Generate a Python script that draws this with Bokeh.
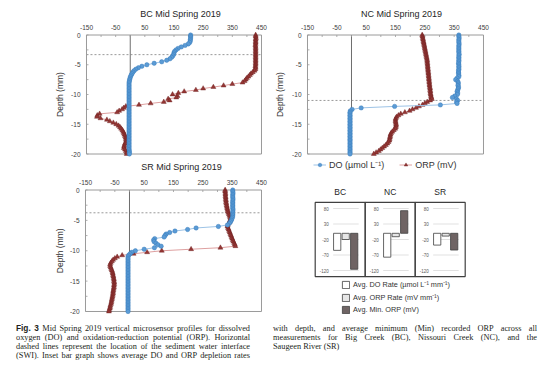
import math
from bokeh.plotting import figure
from bokeh.models import Range1d, Legend, LegendItem, Div, Spacer
from bokeh.layouts import row, column
from bokeh.embed import file_html
from bokeh.resources import INLINE
from bokeh.core.properties import value

# ---------------- data ----------------
DEPTH = [0, -0.25, -0.5, -0.75, -1, -1.25, -1.5, -1.75, -2, -2.25, -2.5, -2.75, -3, -3.25, -3.5,
         -3.75, -4, -4.25, -4.5, -4.75, -5, -5.25, -5.5, -5.75, -6, -6.25, -6.5, -6.75, -7,
         -7.25, -7.5, -7.75, -8, -8.25, -8.5, -8.75, -9, -9.25, -9.5, -9.75, -10, -10.25,
         -10.5, -10.75, -11, -11.25, -11.5, -11.75, -12, -12.25, -12.5, -12.75, -13, -13.25,
         -13.5, -13.75, -14, -14.25, -14.5, -14.75, -15, -15.25, -15.5, -15.75, -16, -16.25,
         -16.5, -16.75, -17, -17.25, -17.5, -17.75, -18, -18.25, -18.5, -18.75, -19, -19.25,
         -19.5, -19.75, -20]

BC_DO = [207, 207, 207, 206, 206, 204,
         199, 188, 175, 164, 157, 152,
         150, 149, 146, 142, 136, 125,
         108, 82, 57, 40, 28, 19,
         13, 9, 6, 3, 1, -1,
         -2, -3, -4, -4, -4, -4,
         -4, -4, -4, -4, -4, -4, -4, -4, -4, -4,
         -4, -4, -4, -4, -4, -4, -4, -4, -4, -4,
         -4, -4, -4, -4, -4, -4, -4, -4, -4, -4,
         -4, -4, -4, -4, -4, -4, -4, -4, -4, -4,
         -4, -4, -3, -3, -3]
BC_ORP = [430, 430, 431, 430, 430, 430, 430, 429, 430, 430, 430, 430,
          430, 430, 430, 430, 430, 430, 430, 430, 430, 429, 430, 429,
          426, 420, 414, 410, 405, 400, 396, 392, 385,
          350, 320, 285, 250, 225, 185, 165, 145,
          162, 158, 130, 135, 115, 70, 30,
          -15, -22, -28, -38, -45, -105, -113, -114,
          -102, -80, -70, -58, -48, -40, -35, -31,
          -27, -24, -22, -20, -18, -16, -15, -14,
          -15, -18, -20, -21, -22, -18, -15, -12, -12]

NC_DO = [366, 366, 367, 366, 366, 366, 367, 366, 366, 366,
         366, 366, 366, 367, 366, 366, 366, 366, 366, 365,
         366, 366, 366, 366, 365, 365, 365, 366, 366,
         360, 355, 362, 364, 364, 363, 365, 364, 362, 360, 362, 361, 352, 344, 358, 362,
         358, 360, 303, 147, 33, 2, -4,
         -5, -5, -5, -5, -5, -5, -5, -5, -5, -5,
         -5, -5, -5, -5, -5, -5, -5, -5, -5, -5,
         -5, -5, -5, -5, -5, -5, -5, -5, -5]
NC_ORP = [241, 242, 243, 244, 245, 246, 247, 248, 249, 250, 251, 252, 253, 254, 255, 256, 257, 258,
          258, 259, 259, 260, 260, 261, 261, 262, 262, 263, 263, 264, 264, 265, 265, 266, 266, 267,
          268, 268, 269, 269, 270, 271, 272, 274,
          268, 258, 250, 242, 230, 220, 208, 198, 182, 168, 160, 154, 151, 150, 150,
          151, 152, 152, 151, 149, 144, 139, 135, 133, 132, 131, 130, 129, 126, 122,
          117, 111, 105, 99, 93, 84, 76]

SR_DO = [352, 352, 353, 352, 352, 352, 353, 352, 352, 352, 352, 352, 352, 353, 352, 352, 352, 352,
         351, 349, 347, 344, 340, 334, 303, 227, 198, 155, 137, 125, 121, 118,
         86, 82, 84, 90, 97, 108, 85, 50, 20, 8, 2, -3,
         -5, -5, -5, -5, -5, -5, -5, -5, -5, -5,
         -5, -5, -5, -5, -5, -5, -5, -5, -5, -5,
         -5, -5, -5, -5, -5, -5, -5, -5, -5, -5,
         -5, -5, -5, -5, -5, -5, -5]
SR_ORP = [326, 326, 327, 327, 327, 328, 328, 329, 329,
          330, 331, 332, 333, 334, 335, 337, 339, 341, 343, 344,
          343, 341, 338, 335, 334, 336, 338, 340, 342, 344, 346, 348, 350, 352, 354, 357, 359, 361,
          310, 210, 110, 60, 14, -25, -42,
          -50, -56, -60, -64, -66, -66, -64, -62, -60, -58, -57, -56, -55, -54,
          -53, -53, -52, -52, -53, -53, -54, -55, -56, -56, -57, -58, -59, -60, -61, -62, -63,
          -65, -66, -67, -69, -70]

SWI = {"BC": -3.3, "NC": -11.0, "SR": -3.75}

X_TICKS = [-150, -50, 50, 150, 250, 350, 450]
X_MINOR = [-100, 0, 100, 200, 300, 400]
Y_TICKS = [0, -5, -10, -15, -20]
Y_MINOR = [-2.5, -7.5, -12.5, -17.5]

SITES = ["BC", "NC", "SR"]
DO_RATE = [-55, -77, -38]
ORP_RATE = [-20, -11, -9]
MIN_ORP = [-116, 73, -54]
BAR_TICKS = [80, 30, -20, -70, -120]

for s in (BC_DO, BC_ORP, NC_DO, NC_ORP, SR_DO, SR_ORP):
    assert len(s) == len(DEPTH), len(s)

# ---------------- style ----------------
FONT = "Liberation Sans"
DO_FILL, DO_EDGE, DO_LINE = "#5b9bd5", "#2e75b6", "#9dc3e6"
ORP_FILL, ORP_EDGE, ORP_LINE = "#943634", "#6b1f1e", "#dea0a0"
FRAME = "#9a9a9a"
TXT = "#333333"
TICKTXT = "#404040"

# one canvas for all the panels; each panel gets its own scales
fig = figure(width=538, height=316, x_range=Range1d(-417.4, 1427.2), y_range=Range1d(-48.655, 4.454),
             toolbar_location=None, output_backend="svg", min_border=0,
             x_axis_location=None, y_axis_location=None, outline_line_color=None,
             background_fill_color="white", border_fill_color="white")
fig.xgrid.visible = False
fig.ygrid.visible = False
fig.extra_x_ranges = {"nc_x": Range1d(-1169.3, 664.8), "sr_x": Range1d(-412.5, 1421.6),
                      "bar_x": Range1d(-6.134, 4.626)}
fig.extra_y_ranges = {"sr_y": Range1d(-22.14, 29.877), "bar_y": Range1d(-294.2, 725.2)}


def panel(xr, yr, ppx, ppy, title, do_vals, orp_vals, swi, title_dx, title_dy, ylab_dx):
    kw = dict(x_range_name=xr, y_range_name=yr)
    x0, x1 = X_TICKS[0], X_TICKS[-1]
    y0, y1 = Y_TICKS[-1], Y_TICKS[0]
    # zero line and sediment-water interface
    fig.segment(x0=[0], y0=[y0], x1=[0], y1=[y1], line_color="#6e6e6e", line_width=1, **kw)
    fig.segment(x0=[x0], y0=[swi], x1=[x1], y1=[swi], line_color="#7f7f7f", line_width=0.8,
                line_dash="2 2", **kw)
    # inside tick marks
    tx = X_TICKS + X_MINOR
    fig.segment(x0=tx, y0=[y1] * len(tx), x1=tx, y1=[y1 - 2.0 / ppy] * len(tx),
                line_color=FRAME, line_width=0.8, **kw)
    ty = Y_TICKS + Y_MINOR
    fig.segment(x0=[x0] * len(ty), y0=ty, x1=[x0 + 2.0 / ppx] * len(ty), y1=ty,
                line_color=FRAME, line_width=0.8, **kw)
    # frame
    fig.quad(left=[x0], right=[x1], bottom=[y0], top=[y1], fill_color=None,
             line_color=FRAME, line_width=1, **kw)
    # series
    rl_o = fig.line(orp_vals, DEPTH, line_color=ORP_LINE, line_width=1, **kw)
    rs_o = fig.scatter(orp_vals, DEPTH, marker="triangle", size=5, fill_color=ORP_FILL,
                       line_color=ORP_EDGE, line_width=0.4, **kw)
    rl_d = fig.line(do_vals, DEPTH, line_color=DO_LINE, line_width=1, **kw)
    rs_d = fig.scatter(do_vals, DEPTH, marker="circle", size=4.4, fill_color=DO_FILL,
                       line_color=DO_EDGE, line_width=0.4, **kw)
    # tick labels
    fig.text(x=X_TICKS, y=[y1] * len(X_TICKS), text=[str(v) for v in X_TICKS], y_offset=-7.5,
             text_font=value(FONT), text_font_size="6.5px", text_color=TICKTXT,
             text_align="center", text_baseline="middle", **kw)
    fig.text(x=[x0] * len(Y_TICKS), y=Y_TICKS, text=[str(v) for v in Y_TICKS], x_offset=-6,
             text_font=value(FONT), text_font_size="6.5px", text_color=TICKTXT,
             text_align="right", text_baseline="middle", **kw)
    fig.text(x=[x0], y=[(y0 + y1) / 2], text=["Depth (mm)"], angle=math.pi / 2, x_offset=ylab_dx,
             text_font=value(FONT), text_font_size="8.5px", text_color=TXT,
             text_align="center", text_baseline="middle", **kw)
    fig.text(x=[(x0 + x1) / 2], y=[y1], text=[title], x_offset=title_dx, y_offset=title_dy,
             text_font=value(FONT), text_font_size="9px", text_color="#262626",
             text_align="center", text_baseline="middle", **kw)
    return rl_d, rs_d, rl_o, rs_o


rd = panel("default", "default", 0.29167, 5.95, "BC Mid Spring 2019", BC_DO, BC_ORP, SWI["BC"],
           6.5, -21.5, -26)
panel("nc_x", "default", 0.29333, 5.95, "NC Mid Spring 2019", NC_DO, NC_ORP, SWI["NC"],
      6, -21.5, -27)
panel("sr_x", "sr_y", 0.29333, 6.075, "SR Mid Spring 2019", SR_DO, SR_ORP, SWI["SR"],
      8, -23.5, -25)

# ---------------- inset bar graph ----------------
bk = dict(x_range_name="bar_x", y_range_name="bar_y")
n = len(SITES)
idx = list(range(n))
BOX_TOP, BOX_BOT = 99.5, -139.5
gx0, gx1, gy, lx, ly, lt = [], [], [], [], [], []
for i in idx:
    for tv in BAR_TICKS:
        gx0.append(i + 0.36)
        gx1.append(i + 0.87)
        gy.append(tv)
        lx.append(i + 0.27)
        ly.append(tv)
        lt.append(str(tv))
fig.segment(x0=gx0, y0=gy, x1=gx1, y1=gy, line_color="#d9d9d9", line_width=0.8, **bk)
fig.text(x=lx, y=ly, text=lt, text_font=value(FONT), text_font_size="4.5px",
         text_align="right", text_baseline="middle", text_color="#595959", **bk)
fig.text(x=[i + 0.5 for i in idx], y=[BOX_TOP] * n, y_offset=-10, text=SITES, text_font=value(FONT),
         text_font_size="8.5px", text_align="center", text_baseline="middle", text_color="#262626", **bk)

b1 = fig.vbar(x=[i + 0.44 for i in idx], top=DO_RATE, bottom=0, width=0.145,
              fill_color="white", line_color="#404040", line_width=0.8, **bk)
b2 = fig.vbar(x=[i + 0.61 for i in idx], top=ORP_RATE, bottom=0, width=0.145,
              fill_color="#e6e6e6", line_color="#404040", line_width=0.8, **bk)
b3 = fig.vbar(x=[i + 0.78 for i in idx], top=MIN_ORP, bottom=0, width=0.145,
              fill_color="#6f6464", line_color="#404040", line_width=0.8, **bk)
fig.quad(left=idx, right=[i + 1 for i in idx], top=BOX_TOP, bottom=BOX_BOT,
         fill_color=None, line_color="#404040", line_width=1.2, **bk)

# ---------------- legends ----------------
leg1 = Legend(items=[LegendItem(label="DO (µmol L⁻¹)", renderers=[rd[0], rd[1]]),
                     LegendItem(label="ORP (mV)", renderers=[rd[2], rd[3]])],
              location=(305, 153), orientation="horizontal", border_line_color=None,
              background_fill_alpha=0, padding=0, margin=0, spacing=15, label_standoff=3,
              glyph_width=13, glyph_height=9, label_height=9, label_text_font=FONT,
              label_text_font_size="9px", label_text_color=TXT)
fig.add_layout(leg1)

leg2 = Legend(items=[LegendItem(label="Avg. DO Rate (µmol L⁻¹ mm⁻¹)", renderers=[b1]),
                     LegendItem(label="Avg. ORP Rate (mV mm⁻¹)", renderers=[b2]),
                     LegendItem(label="Avg. Min. ORP (mV)", renderers=[b3])],
              location=(333, 10), orientation="vertical", border_line_color=None,
              background_fill_alpha=0, padding=0, margin=0, spacing=3, label_standoff=3,
              glyph_width=9, glyph_height=9, label_height=9, label_text_font=FONT,
              label_text_font_size="7.3px", label_text_color=TXT)
fig.add_layout(leg2)

# ---------------- caption ----------------
LEFT_LINES = ["<b style=\"font-family:'Liberation Sans',sans-serif\">Fig. 3</b> Mid Spring 2019 vertical microsensor profiles for dissolved",
              "oxygen (DO) and oxidation-reduction potential (ORP). Horizontal",
              "dashed lines represent the location of the sediment water interface",
              "(SWI). Inset bar graph shows average DO and ORP depletion rates"]
RIGHT_LINES = ["with depth, and average minimum (Min) recorded ORP across all",
               "measurements for Big Creek (BC), Nissouri Creek (NC), and the",
               "Saugeen River (SR)"]


def lines_html(lines, width_px, last_plain):
    out = []
    for k, ln in enumerate(lines):
        last = "left" if (last_plain and k == len(lines) - 1) else "justify"
        out.append(f'<div style="display:block;width:{width_px}px;text-align:justify;'
                   f'text-align-last:{last}">{ln}</div>')
    return "".join(out)


cap_style = {"font-family": "'Liberation Serif', serif", "font-size": "8.3px",
             "line-height": "9px", "color": "#231f20"}
d1 = Div(text=lines_html(LEFT_LINES, 234, False), width=234, height=40, styles=cap_style,
         margin=(0, 0, 0, 0))
d2 = Div(text=lines_html(RIGHT_LINES, 264, True), width=264, height=40, styles=cap_style,
         margin=(0, 0, 0, 0))

inner = column(fig, row(Spacer(width=8, height=40), d1, Spacer(width=23, height=40), d2))
layout = column(Spacer(width=546, height=8), row(Spacer(width=8, height=356), inner))

open("out.html", "w").write(file_html(layout, INLINE))
